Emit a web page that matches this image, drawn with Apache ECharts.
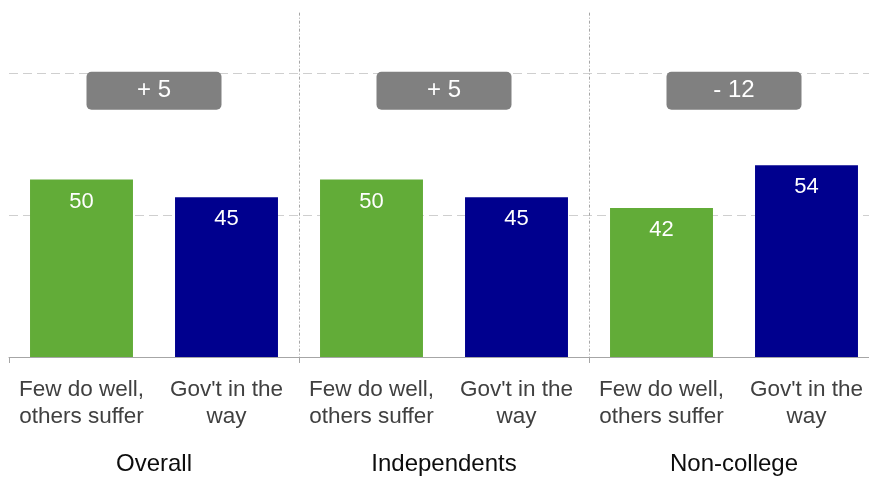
<!DOCTYPE html>
<html>
<head>
<meta charset="utf-8">
<title>Few do well vs. Gov't in the way</title>
<script src="https://cdn.jsdelivr.net/npm/echarts@6/dist/echarts.min.js"></script>
<style>
  html, body { margin: 0; padding: 0; background: #ffffff; overflow: hidden; }
  #chart { width: 879px; height: 480px; }
</style>
</head>
<body>
<div id="chart"></div>
<script>
// Groups and the two answers compared within each group
const groups = ['Overall', 'Independents', 'Non-college'];
const answerLabels = ['Few do well,\nothers suffer', "Gov't in the\nway"];
const fewDoWell = [50, 50, 42];
const govInTheWay = [45, 45, 54];

const GREEN = '#62ac38';
const BLUE = '#00008e';
const FONT = '"Liberation Sans", Arial, sans-serif';

// One category per bar: answer pairs laid out group by group
const categories = [];
const barValues = [];
groups.forEach((g, i) => {
  categories.push(answerLabels[0], answerLabels[1]);
  barValues.push(fewDoWell[i], govInTheWay[i]);
});

// Gap between the two answers, shown in a badge above each pair
function formatGap(d) {
  return (d >= 0 ? '+ ' : '- ') + Math.abs(d);
}
const badgeLevel = 75;
const badges = groups.map((g, i) => {
  const d = fewDoWell[i] - govInTheWay[i];
  return { value: [2 * i + 1, badgeLevel], gap: formatGap(d) };
});

const chart = echarts.init(document.getElementById('chart'), null, { renderer: 'canvas' });

chart.setOption({
  animation: false,
  backgroundColor: '#ffffff',
  grid: { left: 9, right: 0, top: 2, bottom: 123, containLabel: false },
  xAxis: [
    {
      type: 'category',
      position: 'bottom',
      data: categories,
      axisLine: { show: true, lineStyle: { color: '#a6a6a6', width: 1 } },
      axisTick: {
        show: true,
        interval: (idx) => idx % 2 === 0,
        length: 6,
        lineStyle: { color: '#a6a6a6' }
      },
      axisLabel: {
        interval: 0,
        margin: 19,
        fontFamily: FONT,
        fontSize: 22.5,
        lineHeight: 27,
        color: '#404040'
      },
      splitLine: { show: false }
    },
    {
      type: 'value',
      position: 'top',
      min: 0,
      max: 6,
      show: false
    },
    {
      type: 'category',
      position: 'bottom',
      data: groups,
      axisLine: { show: false },
      axisTick: { show: false },
      axisLabel: {
        interval: 0,
        margin: 95,
        fontFamily: FONT,
        fontSize: 24,
        color: '#0d0d0d'
      }
    }
  ],
  yAxis: {
    type: 'value',
    min: 0,
    max: 100,
    interval: 40,
    axisLine: { show: false },
    axisTick: { show: false },
    axisLabel: { show: false },
    splitLine: {
      show: true,
      showMinLine: false,
      showMaxLine: false,
      lineStyle: { color: '#cfcfcf', type: [9, 5], width: 1 }
    }
  },
  series: [
    {
      type: 'bar',
      xAxisIndex: 0,
      data: barValues.map((v, i) => ({
        value: v,
        itemStyle: { color: i % 2 === 0 ? GREEN : BLUE }
      })),
      barWidth: '71%',
      label: {
        show: true,
        position: 'insideTop',
        distance: 11,
        color: '#ffffff',
        fontFamily: FONT,
        fontSize: 22
      },
      z: 2
    },
    {
      type: 'scatter',
      xAxisIndex: 1,
      data: badges,
      symbolSize: 0,
      itemStyle: { opacity: 1 },
      emphasis: { disabled: true },
      label: {
        show: true,
        position: 'inside',
        opacity: 1,
        color: '#ffffff',
        fontFamily: FONT,
        fontSize: 24,
        backgroundColor: '#808080',
        borderRadius: 5,
        width: 135,
        height: 36,
        lineHeight: 36,
        align: 'center',
        verticalAlign: 'middle',
        padding: [2, 0, 0, 0],
        formatter: (p) => p.data.gap
      },
      z: 3,
      markLine: {
        silent: true,
        symbol: 'none',
        label: { show: false },
        lineStyle: { color: '#a6a6a6', type: [3, 2, 1, 2], width: 1, opacity: 1 },
        data: [
          [{ coord: [2, 97] }, { coord: [2, 0] }],
          [{ coord: [4, 97] }, { coord: [4, 0] }]
        ]
      }
    }
  ]
});
</script>
</body>
</html>
